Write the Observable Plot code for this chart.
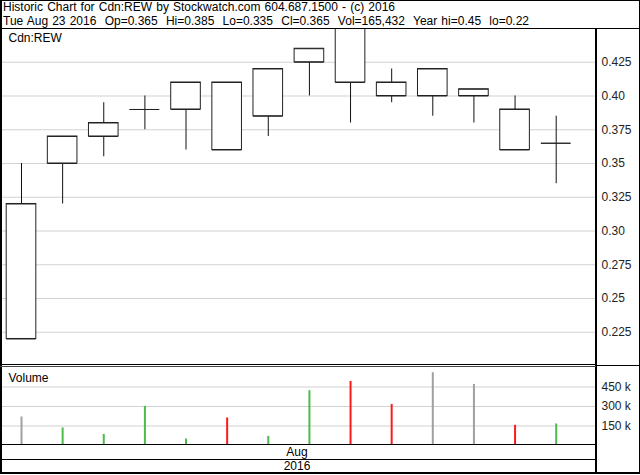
<!DOCTYPE html>
<html>
<head>
<meta charset="utf-8">
<script src="https://cdn.jsdelivr.net/npm/d3@7"></script>
<script src="https://cdn.jsdelivr.net/npm/@observablehq/plot@0.6"></script>
<style>
  html, body { margin: 0; padding: 0; background: #fff; }
  #chart { position: relative; width: 640px; height: 475px; overflow: hidden;
           font-family: "Liberation Sans", Arial, sans-serif; font-size: 12px; color: #000; }
  .abs { position: absolute; }
  .hl { position: absolute; background: #000; }
  .header { position: absolute; left: 3px; top: 0px; line-height: 14px; white-space: pre; word-spacing: 0.8px; }
  .row { position: absolute; left: 0; width: 594px; height: 14px; line-height: 14px; text-align: center; }
  svg { display: block; }
</style>
</head>
<body>
<div id="chart">
  <div class="header">Historic Chart for Cdn:REW by Stockwatch.com 604.687.1500 - (c) 2016
Tue Aug 23 2016  Op=0.365  Hi=0.385  Lo=0.335  Cl=0.365  Vol=165,432  Year hi=0.45  lo=0.22</div>
  <div id="price" class="abs" style="left:0;top:28px;"></div>
  <div id="volume" class="abs" style="left:0;top:367px;"></div>
  <div class="row" style="top:445px;">Aug</div>
  <div class="row" style="top:459px;">2016</div>
  <!-- frame lines -->
  <div class="hl" style="left:0;top:0;width:640px;height:1px;"></div>
  <div class="hl" style="left:0;top:0;width:2px;height:474px;"></div>
  <div class="hl" style="left:639px;top:0;width:1px;height:474px;"></div>
  <div class="hl" style="left:0;top:28px;width:640px;height:1px;"></div>
  <div class="hl" style="left:595px;top:28px;width:2px;height:446px;"></div>
  <div class="hl" style="left:0;top:364px;width:596px;height:1px;"></div>
  <div class="hl" style="left:0;top:366px;width:596px;height:1px;background:#444;"></div>
  <div class="hl" style="left:596px;top:365px;width:44px;height:1px;"></div>
  <div class="hl" style="left:0;top:444px;width:596px;height:1px;"></div>
  <div class="hl" style="left:0;top:459px;width:596px;height:1px;"></div>
  <div class="hl" style="left:0;top:472px;width:640px;height:2px;"></div>
</div>
<script>
// ---- data (daily, Aug 2016) ----
const dates  = ["2016-08-04","2016-08-05","2016-08-08","2016-08-09","2016-08-10","2016-08-11","2016-08-12",
                "2016-08-15","2016-08-16","2016-08-17","2016-08-18","2016-08-19","2016-08-22","2016-08-23"];
const opens  = [0.22, 0.35, 0.37, 0.39, 0.39, 0.41, 0.385, 0.425, 0.45, 0.41, 0.42, 0.405, 0.39, 0.365];
const highs  = [0.35, 0.37, 0.395, 0.40, 0.41, 0.41, 0.42, 0.435, 0.45, 0.42, 0.42, 0.405, 0.40, 0.385];
const lows   = [0.22, 0.32, 0.355, 0.375, 0.36, 0.36, 0.37, 0.40, 0.38, 0.395, 0.385, 0.38, 0.36, 0.335];
const closes = [0.32, 0.37, 0.38, 0.39, 0.41, 0.36, 0.42, 0.435, 0.41, 0.40, 0.40, 0.40, 0.36, 0.365];
const volumes = [219000, 135000, 85000, 301000, 50000, 212000, 70000, 422000, 493000, 316000, 560000, 470000, 155000, 165432];

const priceTicks  = [0.225, 0.25, 0.275, 0.30, 0.325, 0.35, 0.375, 0.40, 0.425];
const priceLabels = ["0.225", "0.25", "0.275", "0.30", "0.325", "0.35", "0.375", "0.40", "0.425"];
const volTicks  = [150000, 300000, 450000];
const volLabels = ["150 k", "300 k", "450 k"];

const symbol = "Cdn:REW";

// ---- build table ----
const data = dates.map((d, i) => ({
  i, date: new Date(d), open: opens[i], high: highs[i], low: lows[i], close: closes[i], volume: volumes[i],
  dir: i === 0 ? 0 : Math.sign(closes[i] - closes[i - 1])
}));
const volColor = d => d.dir > 0 ? "#4cbb4c" : d.dir < 0 ? "#ff1a1a" : "#a0a0a0";

const half = 0.36;
const xScale = {domain: [-0.462, 13.98], axis: null};
const font = {fontSize: "12px", fontFamily: "'Liberation Sans', Arial, sans-serif", color: "#222", background: "transparent"};

const price = Plot.plot({
  width: 640, height: 336,
  marginLeft: 2, marginRight: 44, marginTop: 0, marginBottom: 0,
  style: font,
  x: xScale,
  y: {domain: [0.2011, 0.45]},
  marks: [
    Plot.ruleY(priceTicks, {stroke: "#d2d2d2", strokeWidth: 1.2}),
    Plot.axisY({anchor: "right", ticks: priceTicks, tickSize: 0, tickPadding: 5,
                tickFormat: d => priceLabels[priceTicks.indexOf(d)], label: null}),
    Plot.ruleX(data, {x: "i", y1: "low", y2: "high", stroke: "#111", strokeWidth: 1}),
    Plot.rect(data, {x1: d => d.i - half, x2: d => d.i + half, y1: "open", y2: "close",
                     fill: "white", stroke: "#222", strokeWidth: 1}),
    Plot.ruleY(data, {y: "open", x1: d => d.i - half, x2: d => d.i + half, stroke: "#222", strokeWidth: 1}),
    Plot.ruleY(data, {y: "close", x1: d => d.i - half, x2: d => d.i + half, stroke: "#222", strokeWidth: 1}),
    Plot.text([symbol], {frameAnchor: "top-left", dx: 6, dy: 5, fill: "#000", fontSize: 12})
  ]
});
document.getElementById("price").appendChild(price);

const volume = Plot.plot({
  width: 640, height: 78,
  marginLeft: 2, marginRight: 44, marginTop: 0, marginBottom: 0,
  style: font,
  x: xScale,
  y: {domain: [0, 600000]},
  color: {type: "identity"},
  marks: [
    Plot.ruleY(volTicks, {stroke: "#d2d2d2", strokeWidth: 1.2}),
    Plot.axisY({anchor: "right", ticks: volTicks, tickSize: 0, tickPadding: 5,
                tickFormat: d => volLabels[volTicks.indexOf(d)], label: null}),
    Plot.ruleX(data, {x: "i", y1: 0, y2: "volume", stroke: volColor, strokeWidth: 2}),
    Plot.text(["Volume"], {frameAnchor: "top-left", dx: 6, dy: 6, fill: "#000", fontSize: 12})
  ]
});
document.getElementById("volume").appendChild(volume);
</script>
</body>
</html>
